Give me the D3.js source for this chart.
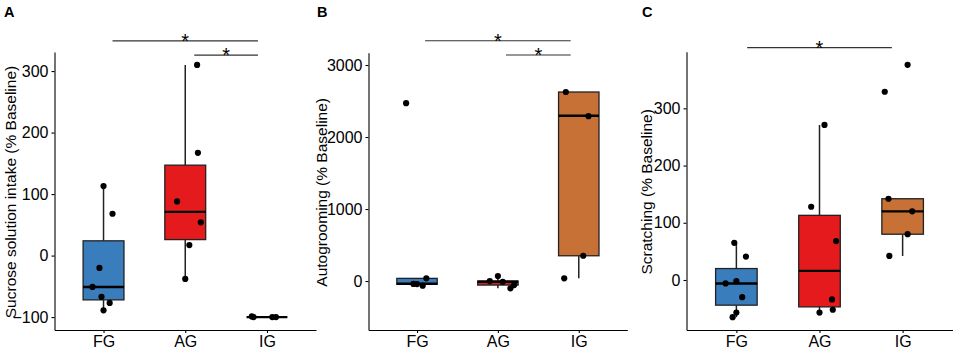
<!DOCTYPE html>
<html>
<head>
<meta charset="utf-8">
<script src="https://cdn.jsdelivr.net/npm/d3@7"></script>
<style>
  body { margin: 0; background: #fff; }
  svg text { font-family: "Liberation Sans", Arial, sans-serif; }
</style>
</head>
<body>
<svg id="chart" width="957" height="350"></svg>
<script>
const groups = ['FG', 'AG', 'IG'];
const groupColors = ['#3a7dbd', '#e41a1c', '#c87137'];

// A - sucrose solution intake (% baseline)
const sucrosePoints = [
  [113, 68, -20, -51, -67, -77, -89],
  [310, 167, 88, 54, 17, -38],
  [-99, -100, -100, -100]
];
// box stats: [low whisker, q1, median, q3, high whisker]
const sucroseBoxes = [
  [-89, -72, -51, 24, 113],
  [-38, 26, 71, 147, 310],
  [-100, -100, -100, -100, -100]
];
const sucroseTicks = [-100, 0, 100, 200, 300];
const sucroseSig = [['FG', 'IG', 349], ['AG', 'IG', 326]];

// B - autogrooming (% baseline)
const groomPoints = [
  [2470, 37, -40, -42, -65],
  [69, 0, -10, -101, -56],
  [2625, 2290, 351, 37]
];
const groomBoxes = [
  [-65, -45, -38, 37, 37],
  [-101, -56, -10, 0, 69],
  [37, 351, 2296, 2625, 2625]
];
const groomTicks = [0, 1000, 2000, 3000];
const groomSig = [['FG', 'IG', 3337], ['AG', 'IG', 3139]];

// C - scratching (% baseline)
const scratchPoints = [
  [65, 41, -6, -2, -30, -57, -65],
  [271, 128, 68, -34, -52, -57],
  [376, 329, 142, 120, 80, 42]
];
const scratchBoxes = [
  [-65, -44, -6, 20, 65],
  [-57, -47, 16, 113, 271],
  [42, 80, 120, 142, 142]
];
const scratchTicks = [0, 100, 200, 300];
const scratchSig = [['FG', 'IG', 406]];

// horizontal jitter of the dots, as a share of the category step
const sucroseJitter = [
  [0, 0.11, -0.05, -0.135, -0.025, 0.075, 0],
  [0.145, 0.155, -0.1, 0.19, 0.05, 0],
  [-0.185, -0.165, 0.065, 0.11]
];
const groomJitter = [
  [-0.135, 0.115, -0.045, 0, 0.07],
  [0, -0.1, 0.06, 0.155, 0.2],
  [-0.16, 0.12, 0.055, -0.18]
];
const scratchJitter = [
  [-0.025, 0.115, -0.13, 0, 0.07, 0, -0.045],
  [0.06, -0.1, 0.2, 0.15, 0.16, 0],
  [0.06, -0.215, -0.17, 0.115, 0.06, -0.16]
];

const svg = d3.select('#chart');
const bottom = 330;

const panels = [
  {letter: 'A', lx: 4, title: 'Sucrose solution intake (% Baseline)', tx: 15.5, left: 54.5, right: 316, top: 52,
   domain: [-121, 331], ticks: sucroseTicks, points: sucrosePoints, boxes: sucroseBoxes,
   jitter: sucroseJitter, sig: sucroseSig, sigInset: 0.11},
  {letter: 'B', lx: 317, title: 'Autogrooming (% Baseline)', tx: 327, left: 368.5, right: 627.3, top: 52.7,
   domain: [-680, 3171], ticks: groomTicks, points: groomPoints, boxes: groomBoxes,
   jitter: groomJitter, sig: groomSig, sigInset: 0.1},
  {letter: 'C', lx: 642, title: 'Scratching (% Baseline)', tx: 651.5, left: 686.5, right: 952.5, top: 51.7,
   domain: [-87.4, 399], ticks: scratchTicks, points: scratchPoints, boxes: scratchBoxes,
   jitter: scratchJitter, sig: scratchSig, sigInset: 0.13}
];

function drawPanel(p) {
  const g = svg.append('g');

  const x = d3.scalePoint().domain(groups).range([p.left, p.right]).padding(0.6);
  const y = d3.scaleLinear().domain(p.domain).range([bottom, p.top]);
  const step = x.step();
  const bw = step * 0.5;

  /// axes
  const yAxis = g.append('g')
    .attr('transform', `translate(${p.left},0)`)
    .call(d3.axisLeft(y).tickValues(p.ticks).tickFormat(d3.format('d'))
      .tickSize(3).tickSizeOuter(0).tickPadding(3));
  const xAxis = g.append('g')
    .attr('transform', `translate(0,${bottom})`)
    .call(d3.axisBottom(x).tickSize(3).tickSizeOuter(0).tickPadding(3));

  [yAxis, xAxis].forEach(a => {
    a.attr('font-size', null).attr('font-family', null);
    a.select('.domain').attr('stroke', '#000').attr('stroke-width', 1.1);
    a.selectAll('.tick line').attr('stroke', '#000').attr('stroke-width', 1.1);
    a.selectAll('.tick text').attr('fill', '#000').style('font-size', '16px');
  });
  xAxis.selectAll('.tick text').attr('dy', '0.7em');

  /// y title
  g.append('text')
    .attr('transform', `translate(${p.tx},${(bottom + p.top) / 2 + 1}) rotate(-90)`)
    .attr('text-anchor', 'middle')
    .style('font-size', '15.5px')
    .attr('fill', '#000')
    .text(p.title);

  /// panel letter
  g.append('text')
    .attr('x', p.lx).attr('y', 17.3)
    .style('font-size', '14.5px').style('font-weight', 'bold')
    .text(p.letter);

  /// boxes
  const box = g.selectAll('.box')
    .data(p.boxes.map((s, i) => ({g: groups[i], s: s, c: groupColors[i]})))
    .enter().append('g').attr('class', 'box');

  box.append('line')
    .attr('x1', d => x(d.g)).attr('x2', d => x(d.g))
    .attr('y1', d => y(d.s[4])).attr('y2', d => y(d.s[3]))
    .attr('stroke', '#222').attr('stroke-width', 1.5);
  box.append('line')
    .attr('x1', d => x(d.g)).attr('x2', d => x(d.g))
    .attr('y1', d => y(d.s[1])).attr('y2', d => y(d.s[0]))
    .attr('stroke', '#222').attr('stroke-width', 1.5);
  box.append('rect')
    .attr('x', d => x(d.g) - bw / 2).attr('width', bw)
    .attr('y', d => y(d.s[3])).attr('height', d => y(d.s[1]) - y(d.s[3]))
    .attr('fill', d => d.c).attr('stroke', '#222').attr('stroke-width', 1.3);
  box.append('line')
    .attr('x1', d => x(d.g) - bw / 2).attr('x2', d => x(d.g) + bw / 2)
    .attr('y1', d => y(d.s[2])).attr('y2', d => y(d.s[2]))
    .attr('stroke', '#000').attr('stroke-width', 2.4);

  /// jittered dots
  const dots = [];
  p.points.forEach((vals, i) => {
    vals.forEach((v, j) => dots.push({g: groups[i], v: v, jx: p.jitter[i][j]}));
  });
  g.selectAll('.dot').data(dots).enter().append('circle')
    .attr('class', 'dot')
    .attr('cx', d => x(d.g) + d.jx * step)
    .attr('cy', d => y(d.v))
    .attr('r', 3.1)
    .attr('fill', '#000');

  /// significance bars
  const sig = g.selectAll('.sig').data(p.sig).enter().append('g').attr('class', 'sig');
  sig.append('line')
    .attr('x1', d => x(d[0]) + p.sigInset * step)
    .attr('x2', d => x(d[1]) - p.sigInset * step)
    .attr('y1', d => y(d[2])).attr('y2', d => y(d[2]))
    .attr('stroke', '#333').attr('stroke-width', 1.2);
  sig.append('text')
    .attr('x', d => (x(d[0]) + x(d[1])) / 2)
    .attr('y', d => y(d[2]) + 7)
    .attr('text-anchor', 'middle')
    .style('font-size', '20px')
    .text('*');
}

panels.forEach(drawPanel);
</script>
</body>
</html>
